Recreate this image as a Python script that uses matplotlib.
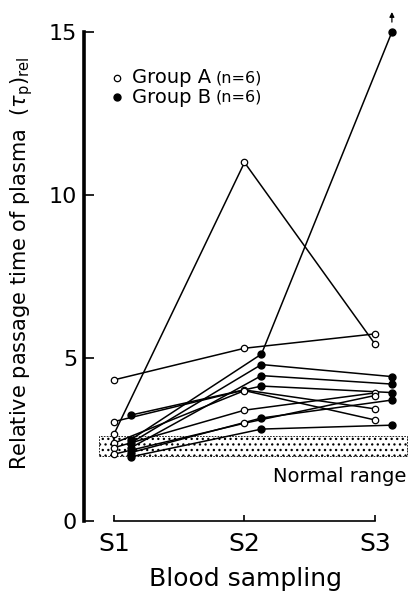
import numpy as np
import matplotlib.pyplot as plt
from matplotlib.patches import Rectangle

# sampling points
samples = ["S1", "S2", "S3"]
x_pos = [1, 2, 3]

# Group A (open circles), one row per patient: S1, S2, S3
group_a = [
    [4.33, 5.30, 5.74],
    [2.67, 11.0, 5.43],
    [3.05, 4.02, 3.44],
    [2.39, 4.00, 3.10],
    [2.25, 3.40, 3.93],
    [2.05, 3.00, 3.85],
]

# Group B (filled circles)
group_b = [
    [2.50, 5.12, 15.0],
    [2.40, 4.80, 4.43],
    [2.25, 4.46, 4.20],
    [3.25, 4.14, 3.94],
    [2.10, 3.16, 3.71],
    [1.97, 2.82, 2.94],
]

normal_range = (2.0, 2.6)
y_ticks = [0, 5, 10, 15]

b_shift = 0.13

plt.rcParams["hatch.linewidth"] = 0.9

fig = plt.figure(figsize=(4.10, 5.97), dpi=100)
ax = fig.add_axes([0.205, 0.1273, 0.79, 0.8627])

xa = np.array(x_pos, dtype=float)
xb = xa + b_shift

for row in group_a:
    ax.plot(xa, row, color="black", lw=1.1, zorder=2)
    ax.plot(xa, row, "o", ms=4.6, mfc="white", mec="black", mew=0.9, zorder=4)

for row in group_b:
    ax.plot(xb, row, color="black", lw=1.1, zorder=2)
    ax.plot(xb, row, "o", ms=5.0, mfc="black", mec="black", zorder=4)

# off-scale value arrow
ax.annotate("", xy=(xb[2], 15.7), xytext=(xb[2], 15.22),
            arrowprops=dict(arrowstyle="-|>", color="black", lw=0.9,
                            mutation_scale=7))

# normal range band
band = Rectangle((0.885, normal_range[0]), 3.245 - 0.885,
                 normal_range[1] - normal_range[0],
                 facecolor="white", edgecolor="black", hatch="...",
                 lw=0.6, ls=(0, (2, 1.5)), zorder=1)
ax.add_patch(band)
ax.text(3.24, 1.38, "Normal range", ha="right", va="center", fontsize=14)

# legend drawn by hand
ax.plot([1.02], [13.6], "o", ms=4.6, mfc="white", mec="black", mew=0.9)
ax.plot([1.02], [13.0], "o", ms=5.0, mfc="black", mec="black")
ta = ax.text(1.14, 13.6, "Group A", va="center", fontsize=14)
tb = ax.text(1.14, 13.0, "Group B", va="center", fontsize=14)
for t in (ta, tb):
    ax.annotate("(n=6)", xy=(1, 0.5), xycoords=t, xytext=(3, 0),
                textcoords="offset points", va="center", fontsize=11.5)

ax.set_xlim(0.77, 3.253)
ax.set_ylim(0, 15.8)

ax.spines["top"].set_visible(False)
ax.spines["right"].set_visible(False)
ax.spines["left"].set_bounds(0, 15)
ax.spines["left"].set_linewidth(2.6)
ax.spines["bottom"].set_bounds(1, 3)
ax.spines["bottom"].set_linewidth(1.2)

ax.set_yticks(y_ticks)
ax.set_yticklabels([str(v) for v in y_ticks], fontsize=16)
ax.set_xticks(x_pos)
ax.set_xticklabels(samples, fontsize=18)
ax.tick_params(axis="y", direction="in", length=7, width=1.2, pad=5)
ax.tick_params(axis="x", direction="in", length=4, width=1.2, pad=8)

ax.set_ylabel(r"Relative passage time of plasma  ($\tau_{\rm p}$)$_{\rm rel}$",
              fontsize=15, labelpad=10)
ax.set_xlabel("Blood sampling", fontsize=18, labelpad=8)

fig.savefig("out.png", dpi=100)
